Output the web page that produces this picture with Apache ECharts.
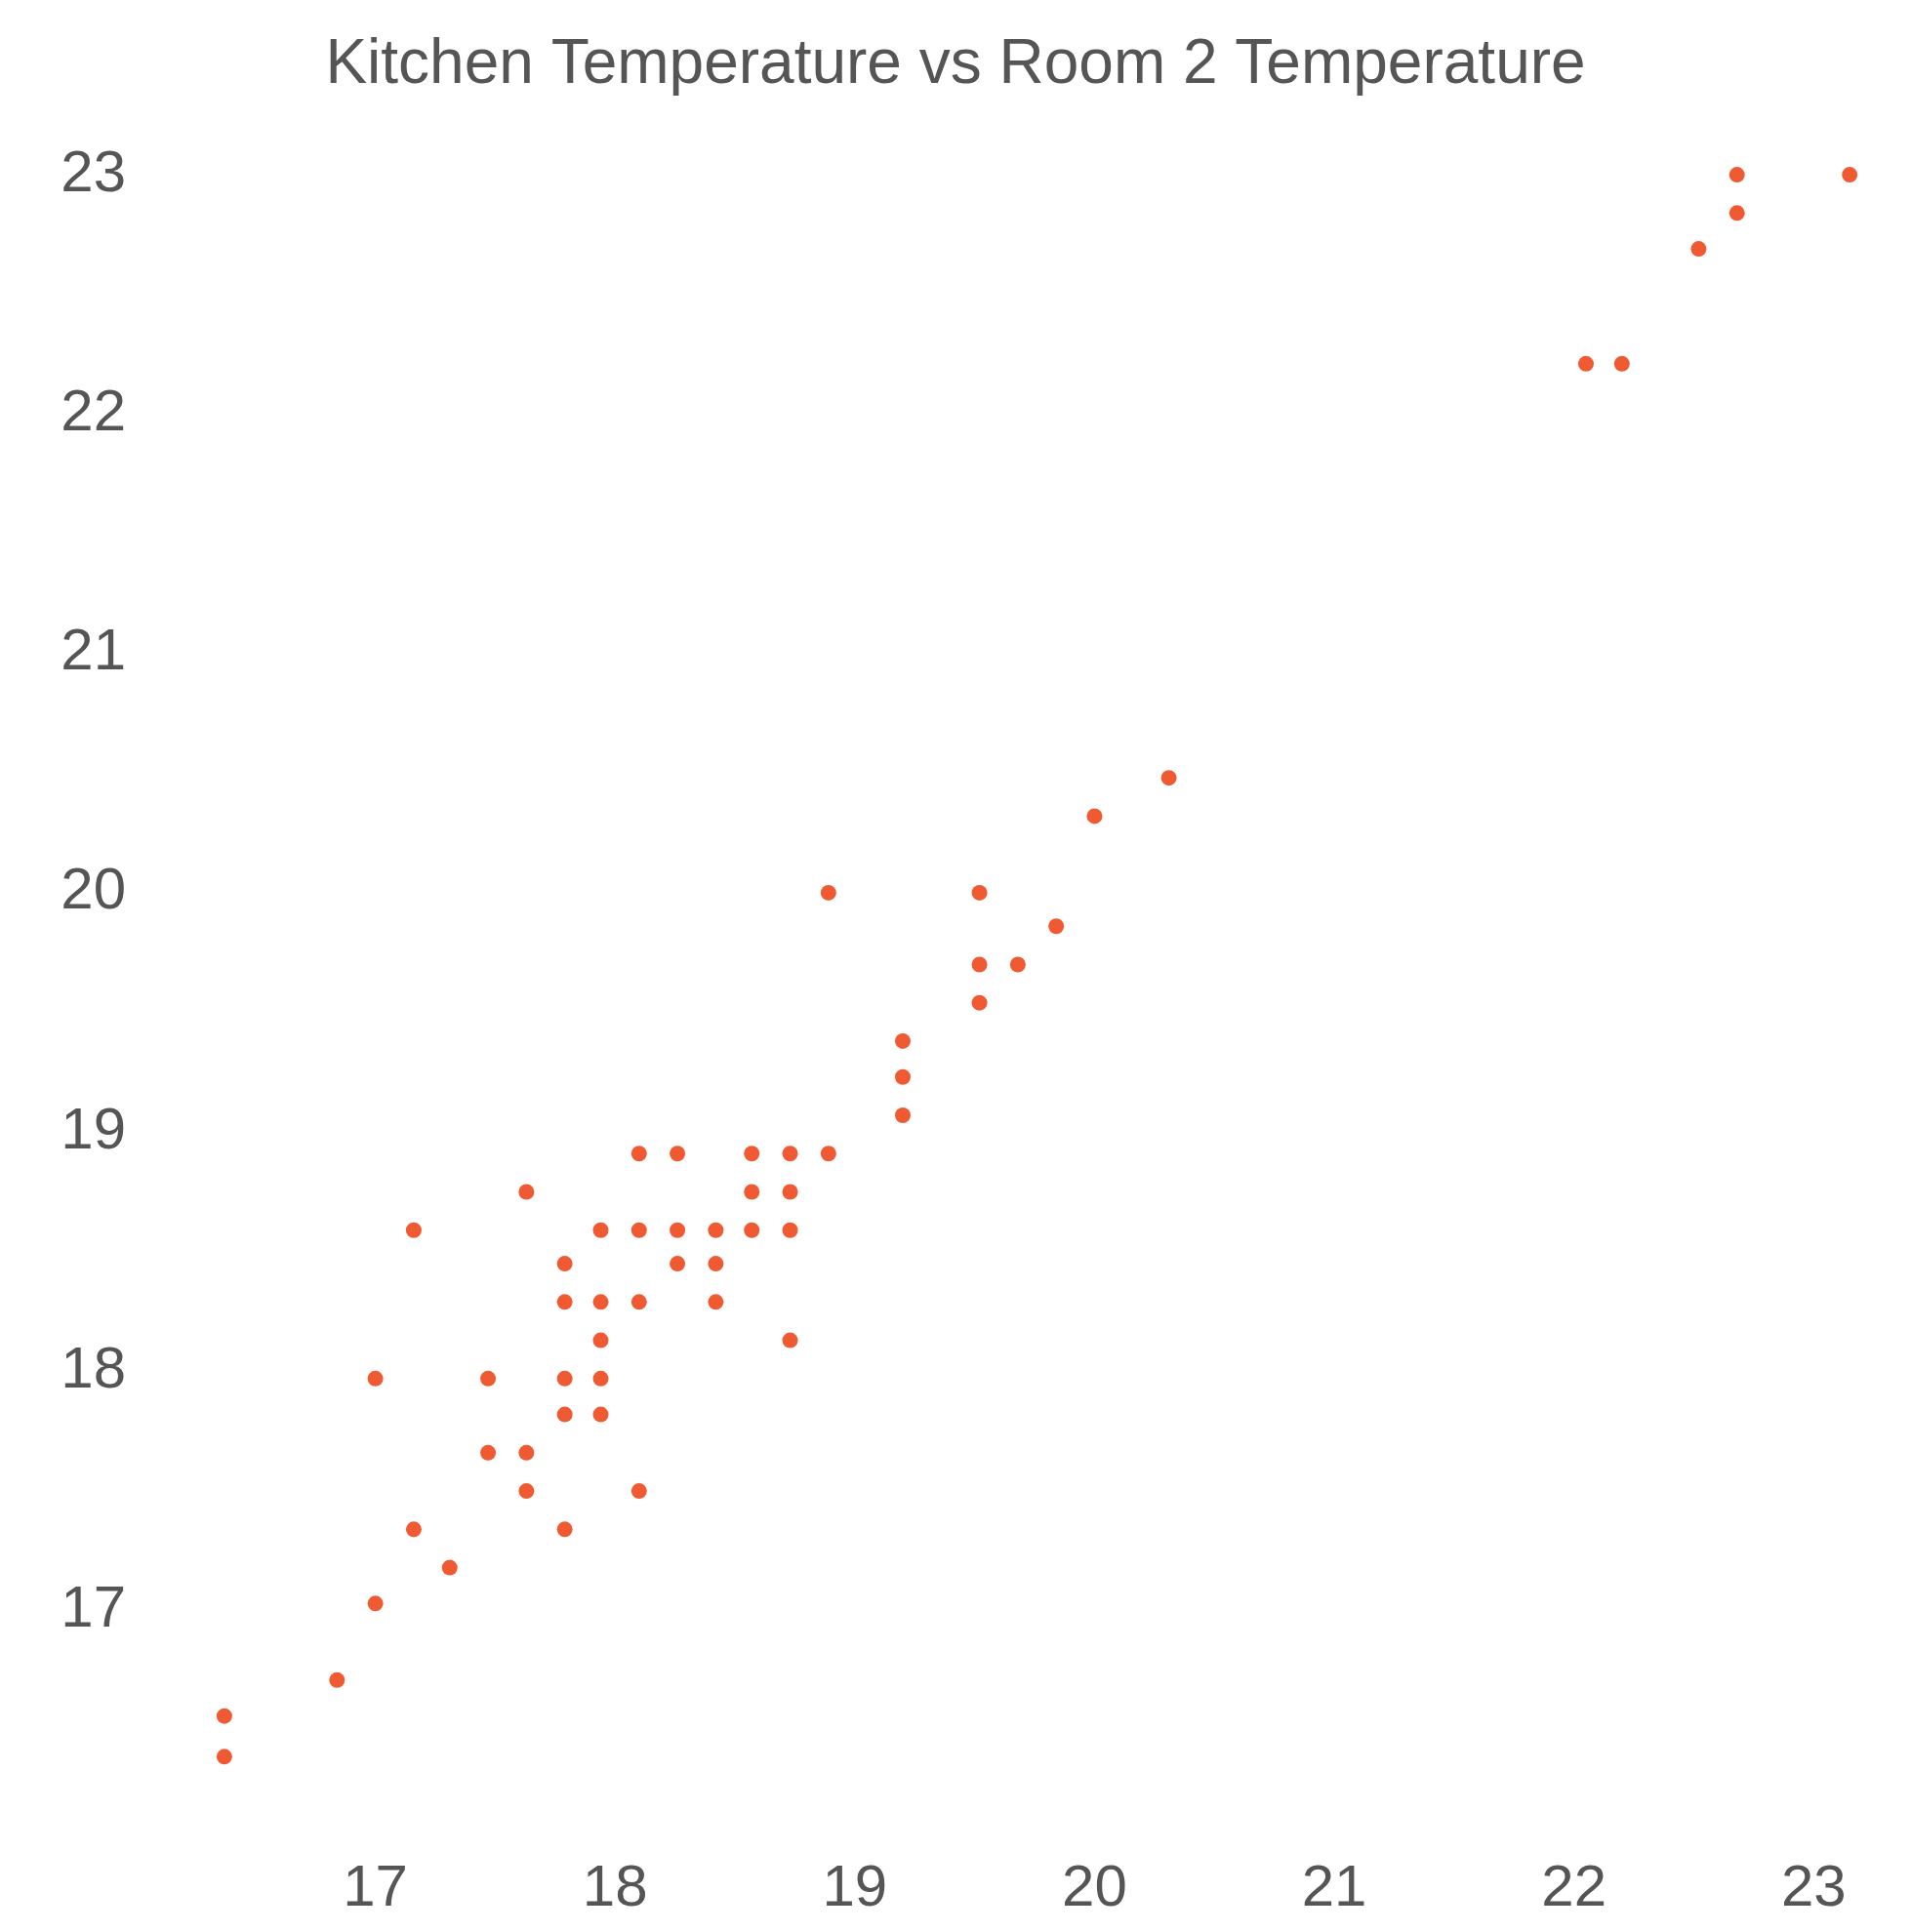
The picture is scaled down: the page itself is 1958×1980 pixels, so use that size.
<!DOCTYPE html>
<html>
<head>
<meta charset="utf-8">
<script src="https://cdn.jsdelivr.net/npm/echarts@6/dist/echarts.min.js"></script>
<style>html,body{margin:0;padding:0;background:#fff}#chart{width:1958px;height:1980px}</style>
</head>
<body>
<div id="chart"></div>
<script>
// Kitchen temperature (x) vs Room 2 temperature (y)
var kitchenTemp = [16.37,16.37,16.84,17.0,17.0,17.16,17.16,17.31,17.47,17.47,17.63,17.63,17.63,17.79,17.79,17.79,17.79,17.79,
	17.94,17.94,17.94,17.94,17.94,18.1,18.1,18.1,18.1,18.26,18.26,18.26,18.42,18.42,18.42,18.57,18.57,18.57,
	18.73,18.73,18.73,18.73,18.89,18.89,19.2,19.2,19.2,19.52,19.52,19.52,19.68,19.84,20.0,20.31,22.05,22.2,22.52,22.68,22.68,23.15];
var room2Temp = [16.56,16.39,16.71,17.03,17.97,17.34,18.59,17.18,17.97,17.66,18.75,17.66,17.5,18.45,18.29,17.97,17.82,17.34,
	18.59,18.29,18.13,17.97,17.82,18.91,18.59,18.29,17.5,18.91,18.59,18.45,18.59,18.45,18.29,18.91,18.75,18.59,
	18.91,18.75,18.59,18.13,18.91,20.0,19.38,19.23,19.07,20.0,19.7,19.54,19.7,19.86,20.32,20.48,22.21,22.21,22.69,22.84,23.0,23.0];

var points = [];
for(var i=0; i<kitchenTemp.length; i++){
	points.push([kitchenTemp[i], room2Temp[i]]);
}

var myChart = echarts.init(document.getElementById('chart'));
var axisCommon = {
	type : 'value',
	interval: 1,
	axisLine:{show:false},
	axisTick:{show:false},
	splitLine:{show:false},
	axisLabel:{
		color:'#555555',
		fontSize:60,
		fontFamily:'Liberation Sans, Arial, sans-serif',
		showMinLabel:false,
		showMaxLabel:false
	}
};
var option = {
	backgroundColor:'#ffffff',
	title: {
		text: 'Kitchen Temperature vs Room 2 Temperature',
		left: 'center',
		top: 30,
		textStyle:{color:'#555555', fontSize:64, fontWeight:'normal', fontFamily:'Liberation Sans, Arial, sans-serif'}
	},
	grid: {left:139, right:26, top:130, bottom:84},
	xAxis : echarts.util.merge({min:16, max:23.3, axisLabel:{margin:10}}, axisCommon),
	yAxis : echarts.util.merge({min:16, max:23.2, axisLabel:{margin:10}}, axisCommon),
	series : [{
		type:'scatter',
		data:points,
		symbolSize:16,
		itemStyle:{color:'#f05a32', opacity:1}
	}]
};
myChart.setOption(option);
</script>
</body>
</html>
